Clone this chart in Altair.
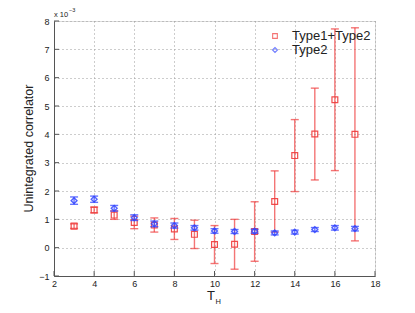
import altair as alt
import pandas as pd

# T_H values
t_h = [3, 4, 5, 6, 7, 8, 9, 10, 11, 12, 13, 14, 15, 16, 17]
# Type1+Type2 (x 1e-3)
red_val = [0.76, 1.33, 1.15, 0.89, 0.80, 0.66, 0.47, 0.11, 0.12, 0.57, 1.63, 3.25, 4.01, 5.22, 4.00]
red_err = [0.08, 0.10, 0.15, 0.22, 0.25, 0.37, 0.50, 0.67, 0.88, 1.05, 1.08, 1.27, 1.62, 2.50, 3.76]
# Type2 (x 1e-3)
blue_val = [1.66, 1.71, 1.39, 1.06, 0.84, 0.78, 0.70, 0.59, 0.57, 0.58, 0.52, 0.55, 0.64, 0.70, 0.67]
blue_err = [0.13, 0.11, 0.10, 0.10, 0.10, 0.09, 0.08, 0.08, 0.07, 0.07, 0.07, 0.07, 0.07, 0.08, 0.08]

x_ticks = [2, 4, 6, 8, 10, 12, 14, 16, 18]
y_ticks = [-1, 0, 1, 2, 3, 4, 5, 6, 7, 8]
series_names = ["Type1+Type2", "Type2"]

FONT = "Liberation Sans"
RED = "#f03a3a"
BLUE = "#3346ff"

df = pd.DataFrame({
    "T": t_h,
    "red": red_val,
    "red_lo": [v - e for v, e in zip(red_val, red_err)],
    "red_hi": [v + e for v, e in zip(red_val, red_err)],
    "blue": blue_val,
    "blue_lo": [v - e for v, e in zip(blue_val, blue_err)],
    "blue_hi": [v + e for v, e in zip(blue_val, blue_err)],
})

xs = alt.Scale(domain=[2, 18], nice=False)
ys = alt.Scale(domain=[-1, 8], nice=False)

x_axis = alt.Axis(values=x_ticks, title=None, grid=True, gridDash=[1, 3], gridColor="#9a9a9a",
                  ticks=False, labelFont=FONT, labelFontSize=9, labelColor="#222",
                  labelPadding=3, domainColor="#555", labelFlush=False, labelOverlap=False)
y_axis = alt.Axis(values=y_ticks, title="Unintegrated correlator", grid=True, gridDash=[1, 3],
                  gridColor="#9a9a9a", ticks=False, labelFont=FONT, labelFontSize=9,
                  labelColor="#222", labelPadding=5, domainColor="#555",
                  titleFont=FONT, titleFontSize=12.5, titleFontWeight="normal", titleColor="#222",
                  titleX=-19, titleY=127, titleAngle=270, titleAlign="center",
                  titleBaseline="bottom", labelFlush=False, labelOverlap=False,
                  labelExpr="datum.value < 0 ? '\u2212' + abs(datum.value) : datum.label")


def X(field):
    return alt.X(field, scale=xs, axis=x_axis)


def Y(field):
    return alt.Y(field, scale=ys, axis=y_axis)


base = alt.Chart(df)


def errbars(col, color, width, opacity):
    line = base.mark_rule(color=color, strokeWidth=width, opacity=opacity).encode(
        x=X("T:Q"), y=Y(col + "_lo:Q"), y2=col + "_hi:Q")
    cap_hi = base.mark_rule(color=color, strokeWidth=width, opacity=opacity,
                            xOffset=-4, x2Offset=4).encode(
        x=X("T:Q"), x2="T:Q", y=Y(col + "_hi:Q"))
    cap_lo = base.mark_rule(color=color, strokeWidth=width, opacity=opacity,
                            xOffset=-4, x2Offset=4).encode(
        x=X("T:Q"), x2="T:Q", y=Y(col + "_lo:Q"))
    return line + cap_hi + cap_lo


red_pts = base.mark_point(shape="square", filled=False, size=34, color=RED,
                          strokeWidth=1.2, opacity=0.9).encode(x=X("T:Q"), y=Y("red:Q"))
blue_pts = base.mark_point(shape="diamond", filled=False, size=34, color=BLUE,
                           strokeWidth=1.4, opacity=0.85).encode(x=X("T:Q"), y=Y("blue:Q"))

# inward ticks
xt = alt.Chart(pd.DataFrame({"v": x_ticks})).mark_rule(color="#555").encode(
    x=X("v:Q"), y=alt.value(255), y2=alt.value(250))
yt = alt.Chart(pd.DataFrame({"v": y_ticks})).mark_rule(color="#555").encode(
    y=Y("v:Q"), x=alt.value(0), x2=alt.value(5))

# exponent label
exp_main = alt.Chart(pd.DataFrame({"t": ["x 10"]})).mark_text(
    font=FONT, fontSize=7.5, align="left", baseline="alphabetic", color="#222").encode(
    text="t:N", x=alt.value(0), y=alt.value(-4))
exp_sup = alt.Chart(pd.DataFrame({"t": ["\u22123"]})).mark_text(
    font=FONT, fontSize=5.5, align="left", baseline="alphabetic", color="#222").encode(
    text="t:N", x=alt.value(15), y=alt.value(-9))

# x title T_H
t_main = alt.Chart(pd.DataFrame({"t": ["T"]})).mark_text(
    font=FONT, fontSize=13, align="center", baseline="alphabetic", color="#222").encode(
    text="t:N", x=alt.value(157), y=alt.value(278.5))
t_sub = alt.Chart(pd.DataFrame({"t": ["H"]})).mark_text(
    font=FONT, fontSize=7.5, align="left", baseline="alphabetic", color="#222").encode(
    text="t:N", x=alt.value(161.5), y=alt.value(282.5))

# legend
leg_red_sym = alt.Chart(pd.DataFrame({"s": [series_names[0]]})).mark_point(
    shape="square", filled=False, size=22, color=RED, strokeWidth=1.1).encode(
    x=alt.value(221), y=alt.value(15))
leg_blue_sym = alt.Chart(pd.DataFrame({"s": [series_names[1]]})).mark_point(
    shape="diamond", filled=False, size=24, color=BLUE, strokeWidth=1.1).encode(
    x=alt.value(221), y=alt.value(29))
leg_red_txt = alt.Chart(pd.DataFrame({"s": [series_names[0]]})).mark_text(
    font=FONT, fontSize=13, align="left", baseline="middle", color="#222").encode(
    text="s:N", x=alt.value(238), y=alt.value(15))
leg_blue_txt = alt.Chart(pd.DataFrame({"s": [series_names[1]]})).mark_text(
    font=FONT, fontSize=13, align="left", baseline="middle", color="#222").encode(
    text="s:N", x=alt.value(238), y=alt.value(29))

chart = alt.layer(
    errbars("red", RED, 1.4, 0.7),
    red_pts,
    errbars("blue", BLUE, 1.4, 0.75),
    blue_pts,
    xt, yt, exp_main, exp_sup, t_main, t_sub,
    leg_red_sym, leg_blue_sym, leg_red_txt, leg_blue_txt,
).properties(
    width=321, height=255,
    autosize=alt.AutoSizeParams(type="none"),
    padding={"left": 46, "top": 13, "right": 30, "bottom": 29},
).configure_view(stroke=None).configure(background="white")

chart.save("out.html", embed_options={"renderer": "svg", "actions": False})
